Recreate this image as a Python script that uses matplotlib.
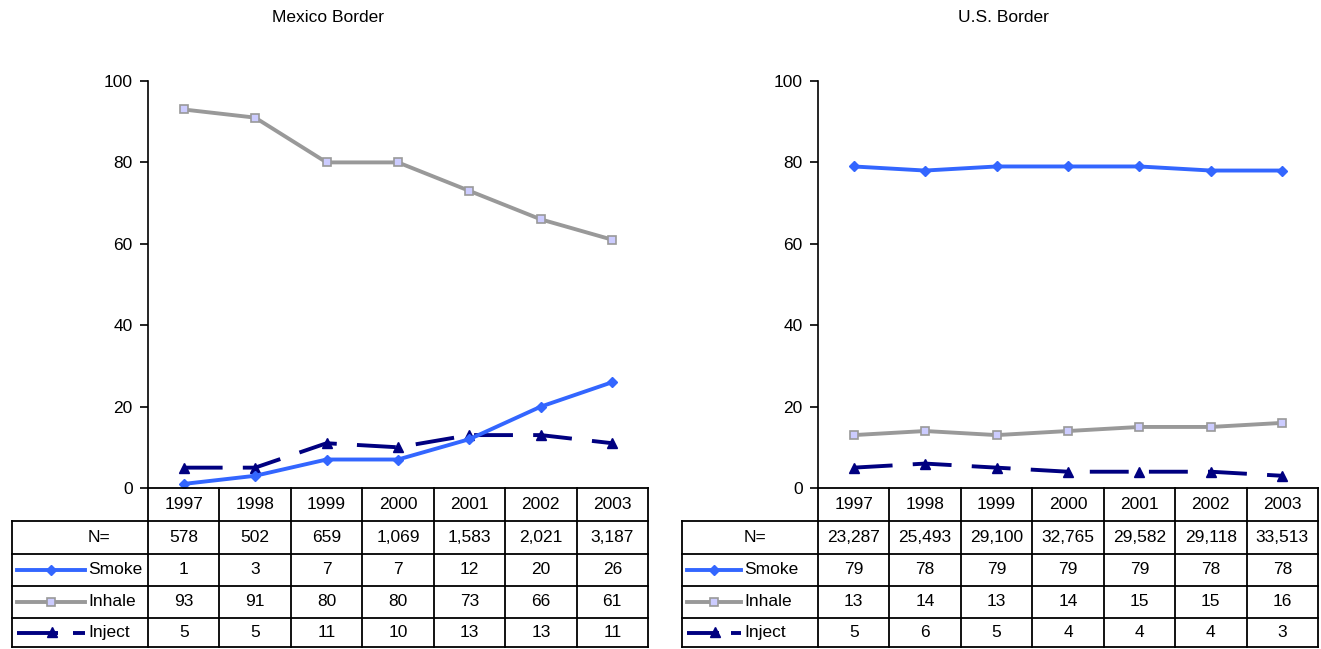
import numpy as np
import matplotlib
matplotlib.use('Agg')
from matplotlib import pyplot as plt
from matplotlib.lines import Line2D

plt.rcParams['font.family'] = ['Liberation Sans', 'DejaVu Sans']

years = ['1997', '1998', '1999', '2000', '2001', '2002', '2003']

mex_n = ['578', '502', '659', '1,069', '1,583', '2,021', '3,187']
mex_smoke = [1, 3, 7, 7, 12, 20, 26]
mex_inhale = [93, 91, 80, 80, 73, 66, 61]
mex_inject = [5, 5, 11, 10, 13, 13, 11]

us_n = ['23,287', '25,493', '29,100', '32,765', '29,582', '29,118', '33,513']
us_smoke = [79, 78, 79, 79, 79, 78, 78]
us_inhale = [13, 14, 13, 14, 15, 15, 16]
us_inject = [5, 6, 5, 4, 4, 4, 3]

W, H = 1321, 649
fig = plt.figure(figsize=(W / 100, H / 100), dpi=100)

def fx(px):
    return px / W

def fy(py):
    return 1 - py / H

styles = {
    'Smoke': dict(color='#3366FF', lw=2.8, marker='D', ms=5, mfc='#3366FF', mec='#3366FF'),
    'Inhale': dict(color='#999999', lw=2.8, marker='s', ms=6, mfc='#CCCCFF', mec='#999999', mew=1.2),
    'Inject': dict(color='#000080', lw=2.8, marker='^', ms=7, mfc='#000080', mec='#000080',
                   dashes=(10, 5.2)),
}

rows = [488, 521, 554, 586, 618, 647]
FS = 12.5


def panel(title, titlex, axl, axr, tabl, keyx0, keyx1, textx, n, smoke, inhale, inject):
    y0, y100 = 488, 81
    ax = fig.add_axes([fx(axl), fy(y0), fx(axr - axl), (y0 - y100) / H])
    x = np.arange(len(years))
    ax.plot(x, inhale, **styles['Inhale'])
    ax.plot(x, inject, **styles['Inject'])
    ax.plot(x, smoke, **styles['Smoke'])
    ax.set_xlim(-0.5, len(years) - 0.5)
    ax.set_ylim(0, 100)
    ax.set_yticks([0, 20, 40, 60, 80, 100])
    ax.tick_params(axis='y', length=6, width=1.2, pad=5, labelsize=FS)
    ax.set_xticks([])
    for s in ['top', 'right', 'bottom']:
        ax.spines[s].set_visible(False)
    ax.spines['left'].set_linewidth(1.2)
    ax.patch.set_alpha(0)

    fig.text(fx(titlex), fy(18), title, ha='center', va='center', fontsize=FS)

    colw = (axr - axl) / len(years)
    lw = 1.3
    # horizontal lines
    fig.add_artist(Line2D([fx(axl), fx(axr)], [fy(rows[0])] * 2, color='k', lw=lw))
    for r in rows[1:]:
        fig.add_artist(Line2D([fx(tabl), fx(axr)], [fy(r)] * 2, color='k', lw=lw))
    # vertical lines
    fig.add_artist(Line2D([fx(tabl)] * 2, [fy(rows[1]), fy(rows[-1])], color='k', lw=lw))
    for i in range(len(years) + 1):
        xp = axl + i * colw
        fig.add_artist(Line2D([fx(xp)] * 2, [fy(rows[0]), fy(rows[-1])], color='k', lw=lw))

    table_rows = [years, n, smoke, inhale, inject]
    for ri, vals in enumerate(table_rows):
        yc = (rows[ri] + rows[ri + 1]) / 2
        for i, v in enumerate(vals):
            fig.text(fx(axl + (i + 0.5) * colw), fy(yc), str(v), ha='center', va='center', fontsize=FS)

    labels = ['N=', 'Smoke', 'Inhale', 'Inject']
    L = keyx1 - keyx0
    for li, lab in enumerate(labels):
        yc = (rows[li + 1] + rows[li + 2]) / 2
        fig.text(fx(textx), fy(yc), lab, ha='left', va='center', fontsize=FS)
        if lab in styles:
            st = dict(styles[lab])
            km = (keyx0 + keyx1) / 2
            if lab == 'Inject':
                st.pop('dashes')
                st['solid_capstyle'] = 'butt'
                mk = dict(marker=st.pop('marker'), ms=st.pop('ms'))
                st.pop('mfc'); st.pop('mec')
                fig.add_artist(Line2D([fx(keyx0), fx(keyx0 + 0.6 * L)], [fy(yc)] * 2, **st))
                fig.add_artist(Line2D([fx(keyx0 + 0.52 * L)], [fy(yc - 1)], ls='none',
                                      color=st['color'], **mk))
                fig.add_artist(Line2D([fx(keyx0 + 0.82 * L), fx(keyx1)], [fy(yc)] * 2, **st))
            else:
                line = Line2D([fx(keyx0), fx(km), fx(keyx1)], [fy(yc)] * 3, markevery=[1], **st)
                fig.add_artist(line)


panel('Mexico Border', 328, 148, 648, 12, 17, 85, 88, mex_n, mex_smoke, mex_inhale, mex_inject)
panel('U.S. Border', 1003, 818, 1318, 682, 687, 741, 744, us_n, us_smoke, us_inhale, us_inject)

fig.savefig('out.png', dpi=100)
